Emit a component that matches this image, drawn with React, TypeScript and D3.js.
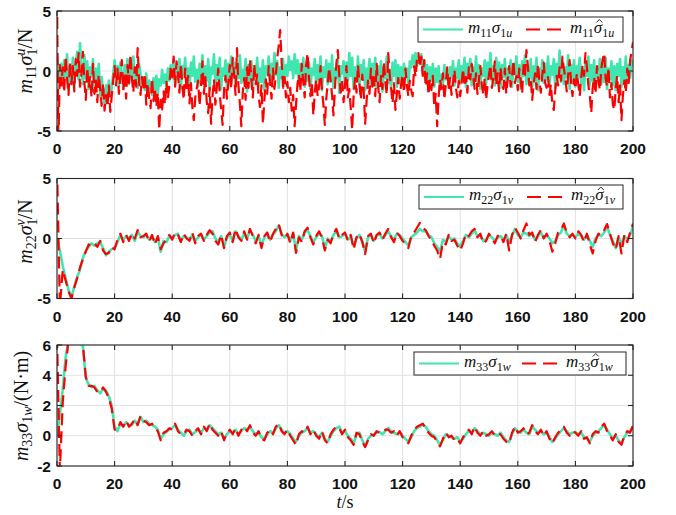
import React, { useLayoutEffect, useRef, useState } from 'react';
import * as d3 from 'd3';

// ---- data ----------------------------------------------------------------
const timeTicks = [0, 20, 40, 60, 80, 100, 120, 140, 160, 180, 200];
const forceTicks = [-5, 0, 5];
const momentTicks = [-2, 0, 2, 4, 6];

// surge disturbance, sampled every 0.5 s
const surgeStep = 0.5;
const surgeTrue = [
  1.2, 0.4, -0.8, 0.6, -1.2, 0.9, -0.5, 1.4, -1.6, 0.2, -0.9, 1.1, -1.4, 0.5, 1.6, -0.7, 2.3, 0.1, -1.1, 1.3,
  -0.6, 0.8, -1.5, 0.3, -0.4, 1.0, -1.8, 0.2, -0.9, 0.6, -2.1, -0.5, -1.7, -2.8, -1.2, -2.5, -0.8, -2.2, -1.4, -0.3,
  0.9, -0.6, 0.4, -1.3, 0.7, -0.2, -1.5, 0.5, -0.8, 1.0, -1.1, 0.2, -0.6, 1.2, -0.9, 0.3, -1.4, 0.6, -0.3, -1.2,
  -0.5, -1.6, -0.2, -1.9, -0.8, -1.3, -2.0, -0.6, -1.5, -0.4, -1.9, -0.7, -1.2, 0.1, -1.0, -0.3, -1.4, 0.2, -0.8, 0.5,
  -0.6, 0.9, -1.2, 0.3, -0.7, 1.0, -1.5, 0.4, -0.3, 1.1, -1.0, 0.2, -1.6, 0.7, -0.4, 1.2, -0.9, 0.1, -1.3, 0.6,
  -0.5, 1.3, -1.1, 0.4, -0.8, 1.0, -1.6, 0.3, -0.2, 1.4, -1.2, 0.5, -0.7, 1.1, -1.5, 0.2, -0.4, 0.9, -1.3, 0.6,
  -0.9, 1.2, -0.3, 0.7, -1.4, 0.4, -0.6, 1.3, -1.0, 0.1, -0.5, 1.0, -1.7, 0.5, -0.8, 0.8, -1.2, 0.3, -0.4, 1.1,
  -1.3, 0.2, -0.9, 0.9, -1.6, 0.4, -0.2, 1.2, -1.1, 0.6, -0.7, 1.5, -0.3, 0.8, -1.4, 0.3, -0.6, 1.0, -1.2, 0.5,
  -0.4, 1.2, 0.1, 0.8, -0.6, 1.4, -0.2, 0.9, -1.0, 0.6, -0.5, 1.1, -1.3, 0.4, -0.8, 0.7, -1.5, 0.2, -0.3, 1.0,
  -1.2, 0.5, -0.7, 1.2, -1.6, 0.3, -0.5, 0.9, -1.1, 0.6, -0.9, 1.3, -1.4, 0.2, -0.6, 1.0, -1.8, 0.4, -0.2, 0.8,
  -1.3, 0.7, -0.8, 1.5, -0.4, 1.1, -1.5, 0.3, -0.9, 1.2, -1.1, 0.5, -0.3, 0.9, -1.6, 0.2, -0.7, 1.0, -1.2, 0.6,
  -0.5, 1.1, -1.4, 0.4, -0.8, 0.8, -1.7, 0.3, -0.6, 1.2, -1.0, 0.1, -1.5, 0.7, -0.4, 0.9, -1.3, 0.5, -0.9, 0.3,
  -1.2, 0.6, -0.5, 0.2, -1.4, 0.8, 0.3, 1.3, 0.6, 1.5, 0.4, 1.2, 0.7, 1.4, -0.2, 0.9, -0.6, 0.5, -1.1, 0.3,
  -0.8, 0.6, -1.3, 0.2, -0.9, 0.4, -1.6, -0.3, -1.1, 0.5, -0.7, 0.1, -1.4, 0.3, -0.5, 0.8, -1.2, 0.2, -0.6, 0.9,
  -1.0, 0.4, -0.3, 1.1, -1.3, 0.6, -0.5, 1.0, -1.2, 0.3, -0.7, 1.2, -0.9, 0.5, -1.5, 0.2, -0.4, 0.9, -1.1, 0.7,
  -0.6, 1.5, -0.8, 0.4, -1.2, 1.1, -0.3, 0.7, -1.4, 0.5, -0.5, 1.0, -1.0, 0.2, -0.7, 0.9, -1.3, 0.6, -0.2, 1.2,
  -0.9, 0.5, -1.5, 0.8, -0.4, 1.3, -1.1, 0.3, -0.6, 1.0, -1.3, 0.4, -0.8, 1.1, -1.6, 0.2, -0.5, 0.9, -1.0, 0.6,
  -0.7, 1.2, -1.2, 0.4, -0.3, 1.0, -1.4, 0.6, -0.6, 1.7, -0.9, 0.8, -1.1, 0.3, -0.5, 1.3, -1.5, 0.5, -0.8, 0.9,
  -1.3, 0.4, -0.6, 1.1, -1.0, 0.2, -1.6, 0.7, -0.4, 1.2, -1.2, 0.5, -0.8, 0.9, -1.4, 0.3, -0.5, 1.0, -1.1, 0.6,
  -0.9, 1.1, -1.5, 0.2, -0.7, 0.8, -1.2, 0.4, -1.6, 0.6, -0.4, 1.0, -1.3, 0.3, -0.8, 1.2, -1.0, 0.5, -0.6, 0.9,
  0.4,
];
const surgeEst = [
  6.0, -6.0, 0.5, -1.2, 0.3, -1.8, 1.2, -0.6, -2.0, 0.8, -1.1, 0.4, -1.7, 1.0, -0.4, 1.5, -1.3, -0.2, 1.6, -0.9,
  -2.4, 0.3, -1.4, -0.5, -2.2, 0.6, -1.9, -0.8, -2.6, -0.3, -1.5, -2.9, -1.0, -3.3, -2.0, -3.0, -1.2, -3.4, -2.1, -0.8,
  0.4, -1.2, 0.2, -1.9, -0.4, 0.9, -1.6, -0.2, -2.3, 0.5, -1.0, 1.4, -0.6, -1.8, 0.3, -1.3, 1.9, -0.9, -2.0, -0.5,
  -1.6, -0.2, -2.8, -1.0, -2.2, -3.1, -0.6, -2.5, -1.4, -3.0, -1.8, -4.9, -2.4, -3.2, -1.7, -2.8, -0.9, -2.3, -1.2, 0.3,
  -0.5, 1.2, -1.3, 0.8, -0.2, -1.8, 0.6, -1.1, -2.4, 0.2, -1.6, -0.4, -2.7, -1.0, -3.0, -4.1, -2.2, -1.5, -0.8, -2.9,
  -1.2, 0.8, -1.9, -0.5, -2.6, -3.5, -1.4, -4.4, -2.1, -0.7, -2.8, -1.3, 0.2, -1.9, -3.2, -4.5, -1.6, -0.4, -2.3, -1.0,
  0.5, -1.5, 1.1, -0.3, -2.0, 1.9, -1.2, -2.7, -4.6, -1.8, -0.6, -2.4, 0.3, -1.4, 1.0, -0.8, -2.2, 0.6, -1.1, -0.3,
  -2.1, -3.0, -1.2, -4.4, -2.5, -0.7, -1.9, 0.4, -1.0, -2.3, 0.2, -1.5, -0.3, 1.2, 2.1, 3.4, 0.8, -1.4, -0.5, -2.2,
  -0.9, -2.6, -1.4, -3.3, -2.0, -4.6, -2.8, -1.1, -0.3, -1.7, 0.6, -0.9, -2.2, 0.5, 1.5, -0.6, -2.1, -1.0, -3.7, -1.8,
  -0.7, -2.1, -1.3, 0.4, -1.6, -2.8, -4.5, -2.3, -1.0, 0.3, -0.8, -2.0, -3.7, -1.5, 0.6, 1.75, -0.4, -1.8, -0.9, -2.6,
  -1.2, 0.4, -2.2, -1.5, -3.1, -4.9, -2.0, -0.6, -1.8, 0.5, -1.0, -2.4, -0.3, -1.7, -4.4, -2.5, -0.8, -1.9, 0.2, -1.3,
  -0.5, -2.1, 0.6, -1.2, -2.6, -0.4, -1.5, 0.8, -0.9, -2.0, 1.5, -0.2, -1.4, -2.7, -1.0, -3.25, -1.9, -0.6, -2.3, -1.1,
  -0.3, -1.8, 0.2, -1.2, -2.1, -0.8, -1.6, -2.1, 0.4, -0.5, 1.0, 1.5, 0.3, 1.2, -0.4, 0.9, -1.3, -0.2, -2.0, -0.7,
  -1.6, -0.4, -3.0, -1.9, -4.6, -2.2, -0.7, -1.5, -0.2, -2.4, -1.1, 0.3, -1.6, -0.6, -2.0, -0.9, 0.1, -1.4, -2.2, -0.8,
  -2.1, -1.0, 0.2, -1.3, -0.5, -1.8, 0.3, -0.7, 0.6, -0.4, -1.5, -0.2, -1.9, -0.8, 0.4, -1.1, -2.0, -0.6, -2.4, -1.2,
  -0.3, 0.5, -1.4, -0.6, 0.8, -1.2, -0.2, -1.7, 0.3, -0.9, -1.5, 0.2, -1.9, -0.7, 0.4, -1.3, -0.5, 0.9, -1.0, -0.4,
  -1.6, 0.2, -0.8, -1.9, 0.5, -0.3, 1.75, 0.4, -1.2, -0.6, -2.4, -1.1, -0.2, -1.5, 0.6, -0.9, -1.8, -0.3, 0.7, -1.0,
  -1.4, -0.5, -2.0, -1.1, -2.8, -3.25, -1.6, -0.4, -1.2, 0.3, -0.8, 1.2, 0.2, -0.6, -1.7, -0.3, 0.9, -1.0, -2.1, -0.7,
  -1.5, -0.2, -1.1, -2.1, -0.6, 0.5, -0.4, 1.5, 0.3, -1.2, -2.0, -3.5, -1.4, -0.5, -1.9, 0.4, -0.8, -1.6, 0.2, 1.0,
  1.5, -0.6, -1.3, 0.3, -2.2, -1.0, -2.8, -3.25, -1.5, -0.4, -2.6, -1.2, -4.1, -2.0, -0.8, -1.8, 0.2, -1.0, 0.9, 1.6,
  2.4,
];

// sway disturbance, sampled every 1 s
const swayStep = 1;
const swayTrue = [
  0.0, -1.0, -2.3, -3.3, -4.3, -4.9, -4.0, -3.2, -2.6, -1.6,
  -1.0, -0.7, -0.4, -0.6, -0.4, -0.3, -0.8, -1.4, -1.1, -0.9,
  -0.8, -0.3, 0.3, -0.1, 0.2, 0.0, 0.3, -0.2, 0.6, 0.2,
  0.1, 0.3, -0.1, 0.2, -0.3, 0.1, -1.1, -0.2, -0.3, 0.2,
  0.0, 0.3, 0.4, -0.2, 0.2, 0.1, -0.1, 0.3, -0.2, 0.1,
  0.3, -0.1, 0.2, 0.5, 0.6, 0.0, -0.3, 0.2, -0.7, 0.1,
  0.3, -0.2, 0.6, 0.2, -0.1, 0.4, 0.0, 0.7, 0.3, -0.2,
  0.2, -0.6, 0.1, 0.4, -0.1, 0.3, 0.6, 1.1, 0.4, 0.1,
  0.3, -0.2, 0.4, -1.0, 0.2, -0.1, 0.5, 0.7, 0.2, -0.3,
  0.1, 0.4, 0.2, -0.8, 0.0, -0.3, 0.3, 0.6, 0.1, 0.2,
  0.4, -0.1, 0.2, -0.6, 0.0, 0.3, -0.2, -1.1, 0.1, 0.3,
  -0.2, 0.2, 0.4, 0.0, 0.3, 0.6, 0.2, -0.1, 0.4, 0.3,
  0.0, -0.3, -0.6, 0.1, 0.3, 0.5, 0.8, 0.6, 0.6, 0.3,
  0.1, -0.4, -0.7, -1.1, -0.1, -0.3, 0.2, -0.1, 0.0, -0.4,
  -0.7, -0.2, 0.3, 0.1, 0.4, 0.7, 0.2, 0.3, -0.2, -0.1,
  0.3, 0.1, -0.2, 0.1, 0.2, -0.1, 0.3, -0.3, 0.2, 0.8,
  0.3, 0.1, 0.5, 0.4, 0.2, 0.4, -0.1, 0.2, 0.5, 0.1,
  0.3, 0.0, -0.4, -0.2, 0.3, 0.5, 1.1, 0.4, 0.2, 0.3,
  0.1, 0.4, 0.2, -0.1, 0.3, -0.2, -0.7, 0.0, 0.3, 0.2,
  0.5, 1.0, 0.3, -0.2, -0.8, 0.1, -0.5, 0.2, -0.1, 0.3,
  1.0,
];
const swayEst = [
  6.0, -5.6, -2.6, -3.5, -4.4, -5.0, -4.1, -3.3, -2.4, -1.7,
  -1.1, -0.5, -0.6, -0.4, -0.7, -0.2, -1.0, -1.3, -1.2, -0.7,
  -0.9, -0.1, 0.4, -0.3, 0.3, -0.2, 0.4, 0.0, 0.7, 0.1,
  0.2, 0.4, -0.3, 0.3, -0.5, 0.2, -0.9, -0.4, -0.1, 0.3,
  -0.1, 0.5, 0.3, -0.3, 0.4, 0.0, -0.2, 0.5, -0.4, 0.2,
  0.4, -0.2, 0.3, 0.7, 0.4, -0.2, -0.5, 0.3, -0.8, 0.2,
  0.5, -0.3, 0.8, 0.1, -0.2, 0.6, -0.1, 0.8, 0.2, -0.4,
  0.3, -0.8, 0.2, 0.5, -0.3, 0.4, 0.8, 1.2, 0.3, 0.0,
  0.4, -0.4, 0.5, -1.2, 0.1, -0.3, 0.6, 0.9, 0.1, -0.5,
  0.2, 0.6, 0.1, -1.0, -0.1, -0.4, 0.4, 0.8, 0.0, 0.3,
  0.5, -0.2, 0.3, -0.9, 0.1, 0.4, -0.3, -1.3, 0.2, 0.4,
  -0.4, 0.3, 0.5, -0.1, 0.4, 0.8, 0.1, -0.3, 0.5, 0.2,
  -0.2, -0.5, -0.8, 0.2, 0.5, 0.9, 1.3, 0.9, 0.7, 0.2,
  -0.1, -0.6, -1.0, -1.7, -0.3, -0.5, 0.3, -0.2, -0.1, -0.6,
  -1.0, -0.4, 0.4, 0.2, 0.6, 0.8, 0.1, 0.4, -0.4, -0.2,
  0.4, 0.0, -0.4, 0.2, 0.3, -0.3, 0.4, -1.0, 0.3, 0.9,
  0.5, 0.0, 0.7, 1.25, 0.3, 0.5, -0.3, 0.3, 0.7, 0.0,
  0.4, -0.2, -1.1, -0.4, 0.5, 0.7, 1.25, 0.5, 0.1, 0.4,
  0.0, 0.6, 0.3, -0.3, 0.4, -0.5, -1.25, -0.2, 0.4, 0.3,
  0.7, 1.2, 0.4, -0.4, -0.9, 0.2, -1.25, 0.3, -0.3, 0.5,
  1.25,
];

// yaw disturbance, sampled every 1 s
const yawStep = 1;
const yawTrue = [
  0.0, 1.4, 3.1, 5.2, 6.3, 6.5, 6.4, 6.3, 6.2, 5.9,
  3.8, 3.4, 3.2, 3.3, 3.0, 2.8, 3.1, 3.0, 2.6, 2.0,
  0.6, 0.3, 0.8, 0.6, 0.9, 0.7, 0.7, 1.0, 0.8, 1.25,
  0.9, 1.0, 0.8, 0.7, 0.6, 0.4, -0.2, 0.1, 0.25, 0.4,
  0.5, 0.7, 0.4, 0.2, 0.0, 0.3, 0.4, 0.1, 0.25, 0.4,
  0.2, 0.5, 0.4, 0.7, 0.5, 0.3, 0.1, 0.2, -0.2, 0.1,
  0.3, 0.2, 0.4, 0.1, 0.3, 0.5, 0.4, 0.6, 0.3, 0.1,
  0.2, -0.1, -0.2, 0.1, 0.3, 0.2, 0.5, 0.7, 0.4, 0.2,
  0.3, 0.1, -0.2, -0.4, 0.0, 0.2, 0.3, 0.5, 0.2, 0.3,
  0.1, -0.1, 0.2, -0.2, -0.4, 0.0, 0.3, 0.5, 0.6, 0.2,
  0.3, 0.0, -0.2, -0.5, 0.1, 0.2, -0.3, -0.7, -0.2, 0.0,
  0.1, 0.2, 0.25, 0.1, 0.3, 0.5, 0.3, 0.2, 0.1, 0.25,
  0.0, -0.2, -0.4, -0.1, 0.3, 0.5, 0.6, 0.75, 0.6, 0.3,
  0.1, 0.0, -0.3, -0.6, -0.3, 0.1, 0.0, -0.1, -0.2, -0.1,
  -0.4, -0.2, 0.1, 0.3, 0.2, 0.5, 0.3, 0.1, 0.2, 0.1,
  0.0, 0.2, 0.1, 0.0, 0.2, -0.1, -0.3, -0.4, 0.1, 0.5,
  0.3, 0.2, 0.4, 0.2, 0.1, 0.6, 0.4, 0.2, 0.3, 0.1,
  0.2, -0.1, -0.4, -0.2, 0.1, 0.3, 0.5, 0.3, 0.1, 0.2,
  0.25, 0.1, 0.2, -0.1, -0.2, -0.4, 0.0, 0.2, 0.3, 0.5,
  0.7, 0.4, 0.1, -0.2, 0.0, -0.3, -0.5, -0.1, 0.2, 0.3,
  0.6,
];
const yawEst = [
  6.6, -2.3, 2.2, 4.6, 6.3, 6.5, 6.4, 6.3, 6.2, 6.0,
  3.9, 3.3, 3.3, 3.2, 2.9, 2.9, 3.2, 2.9, 2.5, 1.8,
  0.4, 0.4, 0.9, 0.6, 1.0, 0.6, 0.8, 1.1, 0.7, 1.3,
  1.0, 0.9, 0.7, 0.8, 0.5, 0.3, -0.3, 0.2, 0.3, 0.5,
  0.4, 0.8, 0.3, 0.1, 0.1, 0.4, 0.3, 0.0, 0.3, 0.5,
  0.1, 0.6, 0.3, 0.8, 0.4, 0.2, 0.0, 0.3, -0.3, 0.2,
  0.4, 0.1, 0.5, 0.0, 0.4, 0.6, 0.3, 0.7, 0.2, 0.0,
  0.3, -0.2, -0.3, 0.2, 0.4, 0.1, 0.6, 0.8, 0.3, 0.1,
  0.4, 0.0, -0.3, -0.6, 0.1, 0.3, 0.2, 0.6, 0.1, 0.4,
  0.0, -0.2, 0.3, -0.3, -0.5, 0.1, 0.4, 0.6, 0.5, 0.1,
  0.4, -0.1, -0.3, -0.6, 0.2, 0.1, -0.4, -0.75, -0.3, 0.1,
  0.0, 0.3, 0.2, 0.2, 0.4, 0.4, 0.2, 0.3, 0.0, 0.3,
  -0.1, -0.3, -0.5, 0.0, 0.4, 0.6, 0.7, 0.8, 0.5, 0.2,
  0.0, -0.1, -0.4, -0.7, -0.2, 0.2, -0.1, 0.0, -0.3, -0.2,
  -0.5, -0.1, 0.2, 0.4, 0.1, 0.6, 0.2, 0.0, 0.3, 0.0,
  0.1, 0.3, 0.0, 0.1, 0.1, -0.2, -0.4, -0.5, 0.2, 0.6,
  0.2, 0.3, 0.5, 0.1, 0.2, 0.7, 0.3, 0.1, 0.4, 0.0,
  0.3, -0.2, -0.5, -0.1, 0.2, 0.4, 0.6, 0.2, 0.0, 0.3,
  0.2, 0.0, 0.3, -0.2, -0.1, -0.5, 0.1, 0.3, 0.2, 0.6,
  0.8, 0.3, 0.0, -0.3, 0.1, -0.4, -0.6, 0.0, 0.3, 0.2,
  0.7,
];

// ---- styling ---------------------------------------------------------------
const GREEN = '#3fe6b0';
const RED = '#ff0000';
const AXIS = '#262626';
const GRID = '#e2e2e2';
const MATH = '"Liberation Serif", "DejaVu Serif", serif';
const SANS = '"Liberation Sans", Arial, Helvetica, sans-serif';

const LEFT = 57;
const RIGHT = 633;

const x = d3.scaleLinear().domain([0, 200]).range([LEFT, RIGHT]);

// legend entry m_{ii} sigma_{1c}; the estimate gets a hat drawn over sigma
function LegendEntry({ x0, y0, idx, comp, hat }: { x0: number; y0: number; idx: string; comp: string; hat: boolean }) {
  const sigmaRef = useRef<SVGTSpanElement>(null);
  const [sig, setSig] = useState<{ x: number; w: number } | null>(null);
  useLayoutEffect(() => {
    if (hat && sigmaRef.current) {
      const b = sigmaRef.current.getBBox();
      setSig({ x: b.x, w: b.width });
    }
  }, [hat]);
  const cx = sig ? sig.x + sig.w / 2 + 1 : 0;
  return (
    <g>
      <text x={x0} y={y0} fontFamily={MATH} fontSize={17} fill="#111">
        <tspan fontStyle="italic">m</tspan>
        <tspan fontSize={12} dy={4}>{idx}</tspan>
        <tspan ref={sigmaRef} fontStyle="italic" dy={-4}>σ</tspan>
        <tspan fontSize={12} dy={4}>1</tspan>
        <tspan fontSize={12} fontStyle="italic">{comp}</tspan>
      </text>
      {hat && sig ? (
        <path
          d={`M${cx - 3},${y0 - 10} L${cx},${y0 - 13} L${cx + 3},${y0 - 10}`}
          fill="none"
          stroke="#111"
          strokeWidth={0.9}
        />
      ) : null}
    </g>
  );
}

interface PanelProps {
  id: string;
  top: number;
  bottom: number;
  domain: [number, number];
  ticks: number[];
  step: number;
  actual: number[];
  estimate: number[];
  legendBox: [number, number, number, number];
  idx: string;
  comp: string;
  yLabel: React.ReactNode;
  yLabelPos: [number, number];
}

function Panel(p: PanelProps) {
  const y = d3.scaleLinear().domain(p.domain).range([p.bottom, p.top]);
  const line = d3
    .line<number>()
    .x((_, i) => x(i * p.step))
    .y((d) => y(d));
  const [lx0, ly0, lx1, ly1] = p.legendBox;
  const lMid = (ly0 + ly1) / 2;
  const tick = 5;
  return (
    <g>
      <defs>
        <clipPath id={`clip-${p.id}`}>
          <rect x={LEFT} y={p.top} width={RIGHT - LEFT} height={p.bottom - p.top} />
        </clipPath>
      </defs>
      <rect x={LEFT} y={p.top} width={RIGHT - LEFT} height={p.bottom - p.top} fill="#fff" />
      {/* grid */}
      {timeTicks.map((t) => (
        <line key={`gx${t}`} x1={x(t)} x2={x(t)} y1={p.top} y2={p.bottom} stroke={GRID} strokeWidth={1} />
      ))}
      {p.ticks.map((v) => (
        <line key={`gy${v}`} x1={LEFT} x2={RIGHT} y1={y(v)} y2={y(v)} stroke={GRID} strokeWidth={1} />
      ))}
      {/* series */}
      <g clipPath={`url(#clip-${p.id})`}>
        <path d={line(p.actual) ?? ''} fill="none" stroke={GREEN} strokeWidth={2.6} strokeLinejoin="round" />
        <path
          d={line(p.estimate) ?? ''}
          fill="none"
          stroke={RED}
          strokeWidth={2.2}
          strokeDasharray="12 6"
          strokeLinejoin="round"
        />
      </g>
      {/* frame and ticks */}
      <rect x={LEFT} y={p.top} width={RIGHT - LEFT} height={p.bottom - p.top} fill="none" stroke={AXIS} strokeWidth={1.1} />
      {timeTicks.map((t) => (
        <g key={`tx${t}`}>
          <line x1={x(t)} x2={x(t)} y1={p.bottom} y2={p.bottom - tick} stroke={AXIS} strokeWidth={1.1} />
          <line x1={x(t)} x2={x(t)} y1={p.top} y2={p.top + tick} stroke={AXIS} strokeWidth={1.1} />
          <text
            x={x(t)}
            y={p.bottom + 23}
            textAnchor="middle"
            fontFamily={SANS}
            fontWeight="bold"
            fontSize={15.5}
            fill="#111"
          >
            {t}
          </text>
        </g>
      ))}
      {p.ticks.map((v) => (
        <g key={`ty${v}`}>
          <line x1={LEFT} x2={LEFT + tick} y1={y(v)} y2={y(v)} stroke={AXIS} strokeWidth={1.1} />
          <line x1={RIGHT} x2={RIGHT - tick} y1={y(v)} y2={y(v)} stroke={AXIS} strokeWidth={1.1} />
          <text
            x={LEFT - 6}
            y={y(v) + 5.5}
            textAnchor="end"
            fontFamily={SANS}
            fontWeight="bold"
            fontSize={15.5}
            fill="#111"
          >
            {v}
          </text>
        </g>
      ))}
      {/* legend */}
      <rect x={lx0} y={ly0} width={lx1 - lx0} height={ly1 - ly0} fill="#fff" stroke={AXIS} strokeWidth={1} />
      <line x1={lx0 + 5} x2={lx0 + 45} y1={lMid} y2={lMid} stroke={GREEN} strokeWidth={2.2} />
      <LegendEntry x0={lx0 + 50} y0={lMid + 3} idx={p.idx} comp={p.comp} hat={false} />
      <line
        x1={lx0 + 108}
        x2={lx0 + 144}
        y1={lMid}
        y2={lMid}
        stroke={RED}
        strokeWidth={2.2}
        strokeDasharray="14 7"
      />
      <LegendEntry x0={lx0 + 152} y0={lMid + 3} idx={p.idx} comp={p.comp} hat={true} />
      {/* y label */}
      <text
        transform={`translate(${p.yLabelPos[0]},${p.yLabelPos[1]}) rotate(-90)`}
        textAnchor="middle"
        fontFamily={MATH}
        fontSize={20}
        fill="#111"
      >
        {p.yLabel}
      </text>
    </g>
  );
}

function forceLabel(idx: string, comp: string) {
  return (
    <>
      <tspan fontStyle="italic">m</tspan>
      <tspan fontSize={14} dy={4}>{idx}</tspan>
      <tspan fontStyle="italic" dy={-4}>σ</tspan>
      <tspan fontSize={14} dy={5}>1</tspan>
      <tspan fontSize={14} fontStyle="italic" dx={-7} dy={-12}>{comp}</tspan>
      <tspan dy={7}>/N</tspan>
    </>
  );
}

const momentLabel = (
  <>
    <tspan fontStyle="italic">m</tspan>
    <tspan fontSize={14} dy={4}>33</tspan>
    <tspan fontStyle="italic" dy={-4}>σ</tspan>
    <tspan fontSize={14} dy={4}>1</tspan>
    <tspan fontSize={14} fontStyle="italic">w</tspan>
    <tspan dy={-4}>/(N·m)</tspan>
  </>
);

export default function App() {
  return (
    <svg
      width={676}
      height={515}
      viewBox="0 0 676 515"
      style={{ position: 'absolute', left: 0, top: 0, background: '#fff' }}
    >
      <rect width={676} height={515} fill="#fff" />
      <Panel
        id="surge"
        top={11}
        bottom={131}
        domain={[-5, 5]}
        ticks={forceTicks}
        step={surgeStep}
        actual={surgeTrue}
        estimate={surgeEst}
        legendBox={[418, 17, 623, 42]}
        idx="11"
        comp="u"
        yLabel={forceLabel('11', 'u')}
        yLabelPos={[31.5, 61]}
      />
      <Panel
        id="sway"
        top={178.5}
        bottom={298.5}
        domain={[-5, 5]}
        ticks={forceTicks}
        step={swayStep}
        actual={swayTrue}
        estimate={swayEst}
        legendBox={[419, 185, 623, 209]}
        idx="22"
        comp="v"
        yLabel={forceLabel('22', 'v')}
        yLabelPos={[31.5, 231.5]}
      />
      <Panel
        id="yaw"
        top={345}
        bottom={466}
        domain={[-2, 6]}
        ticks={momentTicks}
        step={yawStep}
        actual={yawTrue}
        estimate={yawEst}
        legendBox={[414, 352, 626, 375]}
        idx="33"
        comp="w"
        yLabel={momentLabel}
        yLabelPos={[28, 406]}
      />
      <text x={345} y={508} textAnchor="middle" fontFamily={MATH} fontSize={18} fill="#111">
        <tspan fontStyle="italic">t</tspan>
        <tspan>/s</tspan>
      </text>
    </svg>
  );
}
